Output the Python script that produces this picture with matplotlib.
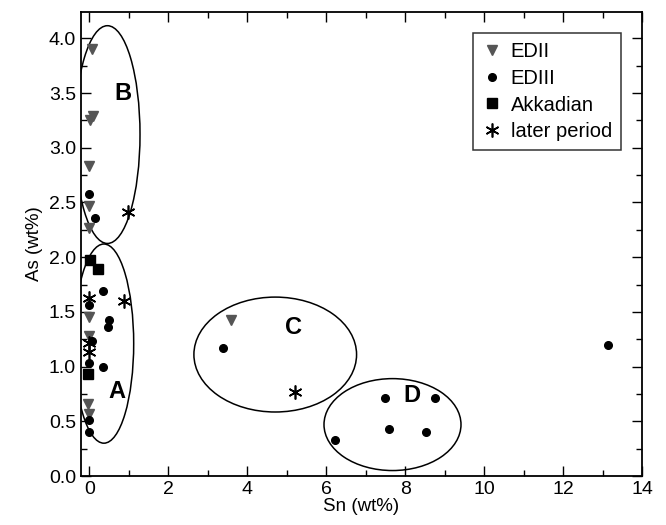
import matplotlib.pyplot as plt
from matplotlib.patches import Ellipse
from matplotlib.ticker import MultipleLocator

plt.rcParams['font.family'] = ['Liberation Sans', 'DejaVu Sans']

# EDII (triangles)
edii_sn = [0.08, 0.10, 0.02, 0.0, -0.01, 0.0, 0.0, 0.0, -0.02, 0.0, 3.60]
edii_as = [3.90, 3.29, 3.25, 2.83, 2.47, 2.27, 1.45, 1.28, 0.66, 0.57, 1.43]

# EDIII (circles)
ediii_sn = [0.0, 0.14, 0.35, 0.0, 0.51, 0.48, 0.08, 0.0, 0.34, 0.0, 0.0,
            3.39, 7.50, 8.75, 7.59, 8.54, 6.22, 13.14]
ediii_as = [2.58, 2.36, 1.69, 1.56, 1.43, 1.36, 1.23, 1.03, 1.00, 0.51, 0.40,
            1.17, 0.71, 0.71, 0.43, 0.40, 0.33, 1.20]

# Akkadian (squares)
akk_sn = [0.02, 0.23, -0.02]
akk_as = [1.97, 1.89, 0.93]

# later period (asterisks)
later_sn = [0.97, 0.0, 0.89, 0.0, 0.0, 5.21]
later_as = [2.41, 1.63, 1.60, 1.22, 1.13, 0.77]

# groups: label, centre, width, height, label position
groups = ['A', 'B', 'C', 'D']
group_centres = [(0.37, 1.21), (0.46, 3.12), (4.71, 1.11), (7.68, 0.47)]
group_widths = [1.51, 1.65, 4.12, 3.47]
group_heights = [1.82, 1.99, 1.05, 0.84]
label_pos = [(0.69, 0.77), (0.86, 3.50), (5.16, 1.36), (8.16, 0.74)]

fig = plt.figure(figsize=(6.66, 5.25), dpi=100)
ax = fig.add_axes([0.1216, 0.0933, 0.8424, 0.8838])

asterisk = (6, 2, 0)
ax.plot(edii_sn, edii_as, 'v', color='#555555', markersize=7.5, linestyle='none', label='EDII')
ax.plot(ediii_sn, ediii_as, 'o', color='black', markersize=5.5, linestyle='none', label='EDIII')
ax.plot(akk_sn, akk_as, 's', color='black', markersize=7, linestyle='none', label='Akkadian')
ax.plot(later_sn, later_as, marker=asterisk, color='black', markersize=10, markeredgewidth=1.2,
        linestyle='none', label='later period')

for g, c, w, h, p in zip(groups, group_centres, group_widths, group_heights, label_pos):
    ax.add_patch(Ellipse(c, w, h, fill=False, edgecolor='black', linewidth=1.1))
    ax.text(p[0], p[1], g, fontsize=17, fontweight='bold', ha='center', va='center')

ax.set_xlim(-0.21, 14)
ax.set_ylim(0, 4.24)
ax.xaxis.set_major_locator(MultipleLocator(2))
ax.xaxis.set_minor_locator(MultipleLocator(1))
ax.yaxis.set_major_locator(MultipleLocator(0.5))
ax.yaxis.set_minor_locator(MultipleLocator(0.25))
ax.yaxis.set_major_formatter(plt.FormatStrFormatter('%.1f'))
ax.tick_params(which='both', direction='in', top=True, right=True, labelsize=14, width=1.0)
ax.tick_params(which='major', length=7)
ax.tick_params(which='minor', length=4)
for s in ax.spines.values():
    s.set_linewidth(1.3)

ax.set_xlabel('Sn (wt%)', fontsize=13.5, labelpad=0)
ax.set_ylabel('As (wt%)', fontsize=13.5)

leg = ax.legend(loc='upper right', fontsize=14.5, frameon=True, fancybox=False,
                edgecolor='black', labelspacing=0.38, handletextpad=0.4,
                handlelength=1.0, borderpad=0.45, borderaxespad=1.05)
leg.get_frame().set_linewidth(1.1)

fig.savefig('out.png', dpi=100)
